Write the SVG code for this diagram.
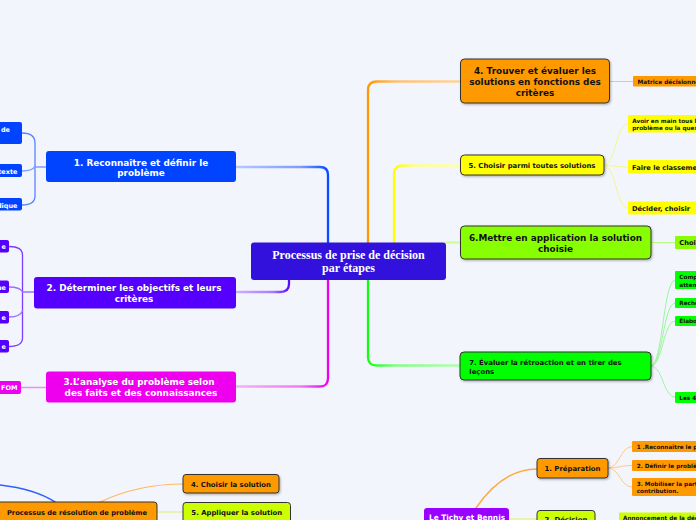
<svg xmlns="http://www.w3.org/2000/svg" width="696" height="520" viewBox="0 0 696 520">
<defs>
<style>
.t{font-family:"DejaVu Sans",Verdana,sans-serif;font-weight:bold}
.w{fill:#ffffff}
.k{fill:#111111}
.m{text-anchor:middle}
.e{text-anchor:end}
.bd{stroke:#333333;stroke-width:1}
.c{fill:none;stroke-linecap:round}
</style>
<filter id="sh" x="-10%" y="-20%" width="130%" height="150%">
<feDropShadow dx="1" dy="1.2" stdDeviation="0.8" flood-color="#000" flood-opacity="0.3"/>
</filter>
<linearGradient id="g1" gradientUnits="userSpaceOnUse" x1="236" y1="0" x2="328" y2="0"><stop offset="0" stop-color="#b5c9ff"/><stop offset="0.7" stop-color="#7d9dff"/><stop offset="1" stop-color="#0a4cff"/></linearGradient>
<linearGradient id="g2" gradientUnits="userSpaceOnUse" x1="236" y1="0" x2="289" y2="0"><stop offset="0" stop-color="#cdb0ff"/><stop offset="0.7" stop-color="#a77cff"/><stop offset="1" stop-color="#5a08ff"/></linearGradient>
<linearGradient id="g3" gradientUnits="userSpaceOnUse" x1="236" y1="0" x2="328" y2="0"><stop offset="0" stop-color="#f6b0f6"/><stop offset="0.7" stop-color="#f27af2"/><stop offset="1" stop-color="#ee00ee"/></linearGradient>
<linearGradient id="g4" gradientUnits="userSpaceOnUse" x1="460" y1="0" x2="368" y2="0"><stop offset="0" stop-color="#ffd49a"/><stop offset="0.7" stop-color="#ffc070"/><stop offset="1" stop-color="#ff9900"/></linearGradient>
<linearGradient id="g5" gradientUnits="userSpaceOnUse" x1="461" y1="0" x2="394" y2="0"><stop offset="0" stop-color="#ffffa8"/><stop offset="0.7" stop-color="#ffff80"/><stop offset="1" stop-color="#ffff00"/></linearGradient>
<linearGradient id="g7" gradientUnits="userSpaceOnUse" x1="460" y1="0" x2="368" y2="0"><stop offset="0" stop-color="#b0ffb0"/><stop offset="0.7" stop-color="#80ff80"/><stop offset="1" stop-color="#10ff10"/></linearGradient>
</defs>
<rect x="0" y="0" width="696" height="520" fill="#f3f5fd"/>

<g id="connectors">
<path class="c" d="M236,167 H320 Q328,167 328,175 V243" stroke="url(#g1)" stroke-width="2.3"/>
<path class="c" d="M236,292 H280 Q289,292 289,284 V279" stroke="url(#g2)" stroke-width="2.3"/>
<path class="c" d="M236,386.5 H320 Q328,386.5 328,378 V279" stroke="url(#g3)" stroke-width="2.3"/>
<path class="c" d="M368,243 V90 Q368,81.5 377,81.5 H460" stroke="url(#g4)" stroke-width="2.3"/>
<path class="c" d="M394,243 V174 Q394,165.5 403,165.5 H461" stroke="url(#g5)" stroke-width="2.3"/>
<path class="c" d="M446,242.5 H460" stroke="#c6ff90" stroke-width="2"/>
<path class="c" d="M368,279 V357 Q368,365.5 377,365.5 H460" stroke="url(#g7)" stroke-width="2.3"/>

<path class="c" d="M22,133 Q35,133 35,143 V196 Q35,205 22,205" stroke="#5a82ff" stroke-width="1.3"/>
<path class="c" d="M22,171 Q33,171 35,166 M35,167 H46" stroke="#7f9dff" stroke-width="1.3"/>
<path class="c" d="M9,246.5 Q22.5,246.5 22.5,255 V338 Q22.5,346.5 9,346.5" stroke="#7a3dff" stroke-width="1.3"/>
<path class="c" d="M9,287 Q20,287 22.5,292 M9,317 Q20,317 22.5,311 M22.5,292 H34" stroke="#9c70ff" stroke-width="1.3"/>
<path class="c" d="M21,387.5 H46" stroke="#f08cf0" stroke-width="1.3"/>

<path class="c" d="M610,81.5 H633" stroke="#ffc27a" stroke-width="1.2"/>
<path class="c" d="M604,165.5 C616,165.5 616,123.5 628,123.5 M604,165.5 C616,165.5 616,167 628,167 M604,165.5 C616,165.5 616,208 628,208" stroke="#f5f58a" stroke-width="1"/>
<path class="c" d="M651,242.5 H675" stroke="#b8ff80" stroke-width="1.2"/>
<path class="c" d="M651,366 C663,366 663,280 675,280 M651,366 C663,366 663,303 675,303 M651,366 C663,366 663,321 675,321 M651,366 C663,366 663,397 675,397" stroke="#9cf59c" stroke-width="1"/>

<path class="c" d="M0,485 Q35,489 55,502" stroke="#2e62ff" stroke-width="1.5"/>
<path class="c" d="M100,502 C130,488 160,484 183,484" stroke="#ffb65e" stroke-width="1.2"/>
<path class="c" d="M157,512 H183" stroke="#dff060" stroke-width="1.2"/>
<path class="c" d="M476,508 C495,480 515,469 537,469" stroke="#ffaa40" stroke-width="1.5"/>
<path class="c" d="M509,519 H537" stroke="#dff060" stroke-width="1.2"/>
<path class="c" d="M608,468 C620,468 620,446.5 632,446.5 M608,468 C620,468 620,465.5 632,465.5 M608,468 C620,468 620,487 632,487" stroke="#ffc88a" stroke-width="1"/>
</g>

<g id="central">
<rect x="251" y="242.5" width="195" height="37.5" rx="3" fill="#3311dd"/>
<text class="w m" x="348.5" y="259.3" font-family="'Liberation Serif',serif" font-weight="bold" font-size="12">Processus de prise de décision</text>
<text class="w m" x="348.5" y="271.8" font-family="'Liberation Serif',serif" font-weight="bold" font-size="12">par étapes</text>
</g>

<g id="n1">
<rect x="46" y="151" width="190" height="31" rx="3" fill="#0044ff"/>
<text class="t w m" x="141" y="165.5" font-size="8.9">1. Reconnaître et définir le</text>
<text class="t w m" x="141" y="176" font-size="8.9">problème</text>
</g>
<g id="n1a"><rect x="-4" y="122" width="26" height="22" rx="2" fill="#0044ff"/><text class="t w e" x="10" y="132" font-size="6.5">de</text></g>
<g id="n1b"><rect x="-4" y="164" width="26" height="13" rx="2" fill="#0044ff"/><text class="t w e" x="17.5" y="174.3" font-size="6.5">texte</text></g>
<g id="n1c"><rect x="-4" y="198" width="26" height="12.5" rx="2" fill="#0044ff"/><text class="t w e" x="17.5" y="208.3" font-size="6.5">dique</text></g>

<g id="n2">
<rect x="34" y="277" width="202" height="31.5" rx="3" fill="#5500ff"/>
<text class="t w m" x="134" y="291" font-size="8.9">2. Déterminer les objectifs et leurs</text>
<text class="t w m" x="134" y="302" font-size="8.9">critères</text>
</g>
<g id="n2a"><rect x="-4" y="240" width="13" height="12.5" rx="2" fill="#5500ff"/><text class="t w e" x="6" y="249" font-size="6.5">e</text></g>
<g id="n2b"><rect x="-4" y="280.5" width="13" height="12.5" rx="2" fill="#5500ff"/><text class="t w e" x="6" y="289.5" font-size="6.5">ue</text></g>
<g id="n2c"><rect x="-4" y="311" width="13" height="12.5" rx="2" fill="#5500ff"/><text class="t w e" x="6" y="320" font-size="6.5">e</text></g>
<g id="n2d"><rect x="-4" y="340" width="13" height="12.5" rx="2" fill="#5500ff"/><text class="t w e" x="6" y="349" font-size="6.5">e</text></g>

<g id="n3">
<rect x="46" y="371.5" width="190" height="31" rx="3" fill="#ee00ee"/>
<text class="t w m" x="139" y="385" font-size="8.9">3.L’analyse du problème selon</text>
<text class="t w m" x="141" y="396" font-size="8.9">des faits et des connaissances</text>
</g>
<g id="n3a"><rect x="-4" y="381" width="25" height="13" rx="2" fill="#ee00ee"/><text class="t w e" x="17.5" y="390.3" font-size="6.5">FOM</text></g>

<g id="n4">
<rect x="460.5" y="59" width="149" height="44" rx="4" fill="#ff9900" class="bd" filter="url(#sh)"/>
<text class="t k m" x="535" y="74" font-size="8.9">4. Trouver et évaluer les</text>
<text class="t k m" x="535" y="85" font-size="8.9">solutions en fonctions des</text>
<text class="t k m" x="535" y="96" font-size="8.9">critères</text>
</g>
<g id="n4a"><rect x="633" y="76" width="70" height="10.5" rx="1" fill="#ff9900"/><text class="t k" x="637.5" y="83.6" font-size="5.8">Matrice  décisionne</text></g>

<g id="n5">
<rect x="460.5" y="155" width="143.5" height="20" rx="4" fill="#ffff00" class="bd" filter="url(#sh)"/>
<text class="t k m" x="532" y="168.3" font-size="6.9">5. Choisir parmi toutes solutions</text>
</g>
<g id="n5a"><rect x="628" y="115" width="75" height="17.5" rx="1" fill="#ffff00"/><text class="t k" x="632.3" y="123.3" font-size="5.7">Avoir en main tous le</text><text class="t k" x="632.3" y="130" font-size="5.7">problème ou  la ques</text></g>
<g id="n5b"><rect x="628" y="160" width="75" height="13.5" rx="1" fill="#ffff00"/><text class="t k" x="632" y="169.8" font-size="6.7">Faire le classeme</text></g>
<g id="n5c"><rect x="628" y="201.5" width="75" height="13" rx="1" fill="#ffff00"/><text class="t k" x="632" y="210.8" font-size="6.7">Décider, choisir</text></g>

<g id="n6">
<rect x="460.5" y="226" width="190.5" height="33" rx="4" fill="#88ff00" class="bd" filter="url(#sh)"/>
<text class="t k m" x="555.5" y="241" font-size="8.9">6.Mettre en application la solution</text>
<text class="t k m" x="555.5" y="252" font-size="8.9">choisie</text>
</g>
<g id="n6a"><rect x="675" y="236" width="30" height="13" rx="1" fill="#88ff00"/><text class="t k" x="679.3" y="245.3" font-size="6.7">Choi</text></g>

<g id="n7">
<rect x="460" y="352" width="191" height="28" rx="4" fill="#00ff00" class="bd" filter="url(#sh)"/>
<text class="t k" x="469.3" y="364.5" font-size="6.9">7. Évaluer la rétroaction et en tirer des</text>
<text class="t k" x="469.3" y="373.5" font-size="6.9">leçons</text>
</g>
<g id="n7a"><rect x="675" y="271" width="30" height="18" rx="1" fill="#00ff00"/><text class="t k" x="679.3" y="279" font-size="5.7">Comp</text><text class="t k" x="679.3" y="286.5" font-size="5.7">atten</text></g>
<g id="n7b"><rect x="675" y="298" width="30" height="10" rx="1" fill="#00ff00"/><text class="t k" x="679.3" y="305" font-size="5.7">Reche</text></g>
<g id="n7c"><rect x="675" y="316" width="30" height="10" rx="1" fill="#00ff00"/><text class="t k" x="679.3" y="323.3" font-size="5.7">Élabo</text></g>
<g id="n7d"><rect x="675" y="392" width="30" height="11" rx="1" fill="#00ff00"/><text class="t k" x="679.3" y="399.7" font-size="5.7">Les 4</text></g>

<g id="b1">
<rect x="-3" y="502" width="160" height="26" rx="3" fill="#ff9900" class="bd"/>
<text class="t k m" x="77" y="515" font-size="6.7">Processus de résolution de problème</text>
</g>
<g id="b2">
<rect x="183" y="474.5" width="96" height="18.5" rx="3" fill="#ff9900" class="bd" filter="url(#sh)"/>
<text class="t k m" x="231" y="486.8" font-size="6.9">4. Choisir la solution</text>
</g>
<g id="b3">
<rect x="183" y="502.5" width="107.5" height="24" rx="3" fill="#ccff00" class="bd"/>
<text class="t k m" x="236.8" y="515" font-size="6.9">5. Appliquer la solution</text>
</g>
<g id="b4">
<rect x="424" y="508" width="85" height="20" rx="3" fill="#9900ff"/>
<text class="t w m" x="467" y="519.5" font-size="7.4">Le Tichy et Bennis</text>
</g>
<g id="b5">
<rect x="537" y="458.5" width="71" height="19.5" rx="3" fill="#ff9900" class="bd" filter="url(#sh)"/>
<text class="t k m" x="572.5" y="470.8" font-size="6.9">1. Préparation</text>
</g>
<g id="b5a"><rect x="632" y="441" width="70" height="11" rx="1" fill="#ff9900"/><text class="t k" x="636.7" y="449" font-size="5.7">1 .Reconnaître le p</text></g>
<g id="b5b"><rect x="632" y="460" width="70" height="11" rx="1" fill="#ff9900"/><text class="t k" x="636.7" y="468" font-size="5.7">2. Définir le problè</text></g>
<g id="b5c"><rect x="632" y="478" width="70" height="18" rx="1" fill="#ff9900"/><text class="t k" x="636.7" y="486.2" font-size="5.7">3. Mobiliser la parti</text><text class="t k" x="636.7" y="493.2" font-size="5.7">contribution.</text></g>
<g id="b6">
<rect x="537" y="510.5" width="58" height="20" rx="3" fill="#ccff00" class="bd"/>
<text class="t k m" x="566" y="522" font-size="6.9">2. Décision</text>
</g>
<g id="b6a"><rect x="619" y="512.5" width="84" height="12" rx="1" fill="#ccff00"/><text class="t k" x="623" y="519.5" font-size="5.7">Annoncement de la déc</text></g>
</svg>
